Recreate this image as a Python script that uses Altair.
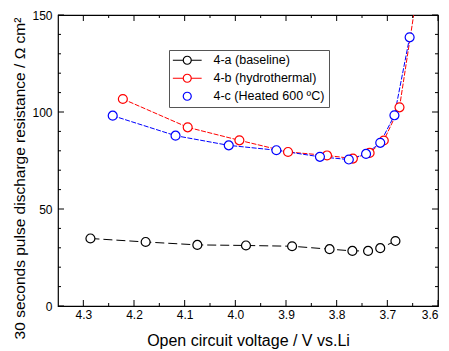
import altair as alt
import pandas as pd

names = ["4-a (baseline)", "4-b (hydrothermal)", "4-c (Heated 600 ºC)"]
keys = ["a", "b", "c"]
colors = ["#000000", "#ff0000", "#0000ff"]

a_v = [4.286, 4.177, 4.075, 3.979, 3.888, 3.814, 3.769, 3.738, 3.714, 3.684]
a_r = [34.8, 33.0, 31.5, 31.2, 30.8, 29.3, 28.4, 28.4, 29.8, 33.5]

b_v = [4.222, 4.094, 3.992, 3.896, 3.819, 3.768, 3.735, 3.707, 3.676, 3.640]
b_r = [106.7, 92.1, 85.4, 79.4, 77.6, 76.0, 78.9, 85.3, 102.4, 163.6]

c_v = [4.242, 4.118, 4.013, 3.919, 3.833, 3.776, 3.742, 3.714, 3.686, 3.656]
c_r = [98.1, 87.8, 82.8, 80.3, 76.9, 75.5, 78.4, 84.1, 98.3, 138.5]

x_major = [4.3, 4.2, 4.1, 4.0, 3.9, 3.8, 3.7, 3.6]
x_minor = [4.25, 4.15, 4.05, 3.95, 3.85, 3.75, 3.65]
y_major = [0, 50, 100, 150]
y_minor = [10, 20, 30, 40, 60, 70, 80, 90, 110, 120, 130, 140]

rows = []
for name, key, vs, rs in [(names[0], keys[0], a_v, a_r), (names[1], keys[1], b_v, b_r),
                          (names[2], keys[2], c_v, c_r)]:
    for i, (v, r) in enumerate(zip(vs, rs)):
        rows.append({"S": name, "D": key, "V": v, "R": r, "i": i})
df = pd.DataFrame(rows)

W, H = 380, 291
FONT = "Liberation Sans"

xs = alt.Scale(domain=[3.6, 4.35], reverse=True, nice=False, zero=False)
ys = alt.Scale(domain=[0, 150], nice=False, zero=False)
cs = alt.Scale(domain=names, range=colors)

circle = "M1,0C1,0.5523 0.5523,1 0,1C-0.5523,1 -1,0.5523 -1,0C-1,-0.5523 -0.5523,-1 0,-1C0.5523,-1 1,-0.5523 1,0Z"
line_circle = circle + "M-3.6,0L-1,0M1,0L3.6,0"
shp = alt.Scale(domain=names, range=[line_circle, line_circle, circle])
dash = alt.Scale(domain=keys, range=[[9, 4], [5, 1.5], [5, 1.5]])

main_x = alt.X("V:Q", scale=xs, axis=alt.Axis(values=x_major, format=".1f", ticks=False,
               labelPadding=3, title="Open circuit voltage / V vs.Li", titlePadding=12,
               titleFontSize=16, grid=False, domain=False))
main_y = alt.Y("R:Q", scale=ys, axis=alt.Axis(values=y_major, ticks=False, labelPadding=6,
               title="30 seconds pulse discharge resistance / Ω cm²", titlePadding=4,
               titleFontSize=15.5, titleY=163, grid=False, domain=False))

leg = dict(title=None, orient="none", legendX=111, legendY=35,
           symbolSize=64, symbolStrokeWidth=1.2, symbolFillColor="white",
           symbolOpacity=1, symbolOffset=8, labelOffset=20, padding=4, rowPadding=4,
           labelFontSize=12.5, labelFont=FONT, labelColor="black",
           strokeColor="#555", offset=0)

legend_layer = alt.Chart(df).mark_point(opacity=0, filled=False).encode(
    x=main_x, y=main_y,
    color=alt.Color("S:N", scale=cs, legend=alt.Legend(**leg)),
    shape=alt.Shape("S:N", scale=shp, legend=alt.Legend(**leg)),
)

lines = alt.Chart(df).mark_line(strokeWidth=1, clip=True).encode(
    x=main_x, y=main_y,
    color=alt.Color("S:N", scale=cs),
    strokeDash=alt.StrokeDash("D:N", scale=dash, legend=None),
    order="i:Q",
)

points = alt.Chart(df).mark_point(size=80, filled=False, fill="white", fillOpacity=1,
                                   strokeWidth=1.2, opacity=1, clip=True, shape="circle").encode(
    x=main_x, y=main_y,
    color=alt.Color("S:N", scale=cs),
)


def xticks(vals, y0, y1):
    return alt.Chart(pd.DataFrame({"V": vals})).mark_rule(color="black", strokeWidth=1).encode(
        x=alt.X("V:Q", scale=xs), y=alt.value(y0), y2=alt.value(y1))


def yticks(vals, x0, x1):
    return alt.Chart(pd.DataFrame({"R": vals})).mark_rule(color="black", strokeWidth=1).encode(
        y=alt.Y("R:Q", scale=ys), x=alt.value(x0), x2=alt.value(x1))


ticks = [
    xticks(x_major, H, H - 6), xticks(x_minor, H, H - 3),
    xticks(x_major, 0, 6), xticks(x_minor, 0, 3),
    yticks(y_major, 0, 6), yticks(y_minor, 0, 3),
    yticks(y_major, W, W - 6), yticks(y_minor, W, W - 3),
]

chart = alt.layer(
    legend_layer, lines, points, *ticks,
).properties(
    width=W, height=H, background="white",
    autosize=alt.AutoSizeParams(type="none"),
    padding={"left": 50, "top": 7, "right": 3, "bottom": 45}
).configure_view(stroke="black", strokeWidth=1.2).configure_axis(
    labelFont=FONT, titleFont=FONT, labelFontSize=12, labelColor="black",
    titleColor="black", titleFontWeight="normal", grid=False, domain=False,
).configure_legend(
    labelFont=FONT, labelFontSize=12.5, labelColor="black",
)

chart.save("out.html", embed_options={"renderer": "svg", "actions": False})
